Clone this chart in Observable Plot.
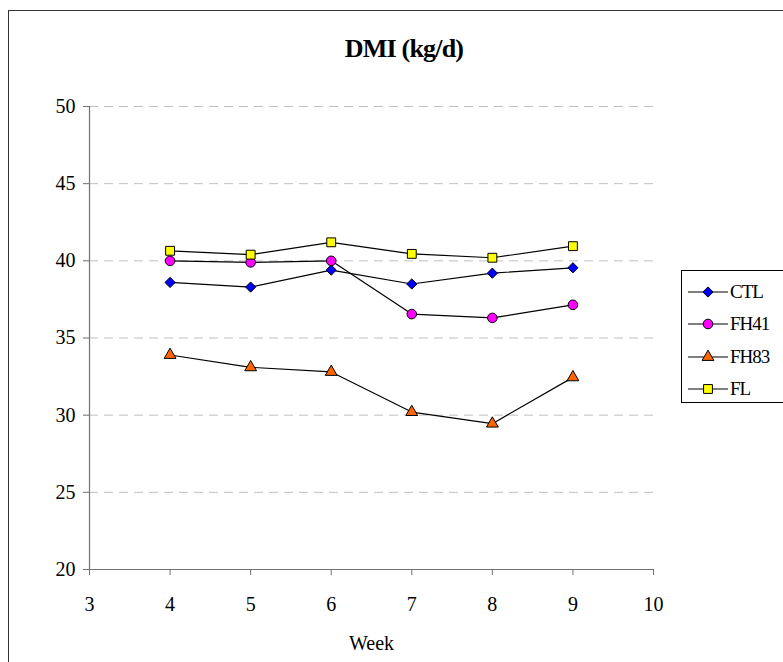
<!DOCTYPE html>
<html>
<head>
<meta charset="utf-8">
<script src="https://cdn.jsdelivr.net/npm/d3@7"></script>
<script src="https://cdn.jsdelivr.net/npm/@observablehq/plot@0.6"></script>
<style>
  body { margin: 0; background: #fff; width: 783px; height: 662px; overflow: hidden; position: relative; font-family: "Liberation Serif", "Times New Roman", Tinos, "DejaVu Serif", serif; }
  #frame { position: absolute; left: 8px; top: 10px; width: 900px; height: 900px; border: 1px solid #333; box-sizing: border-box; }
  #title { position: absolute; left: 0; width: 808px; top: 34px; line-height: 30px; text-align: center; font-weight: bold; font-size: 26px; letter-spacing: -0.8px; }
  #chart { position: absolute; left: 0; top: 0; }
  #legend { position: absolute; left: 681px; top: 270px; width: 200px; height: 133px; border: 1px solid #000; box-sizing: border-box; background: #fff; }
  #legend .item { position: absolute; left: 0; height: 20px; display: flex; align-items: center; font-size: 19px; letter-spacing: -1px; }
  #legend svg { display: block; }
  #chart svg text { font-family: "Liberation Serif", "Times New Roman", Tinos, "DejaVu Serif", serif; }
</style>
</head>
<body>
<div id="frame"></div>
<div id="chart"></div>
<div id="title">DMI (kg/d)</div>
<div id="legend"></div>
<script>
const weeks = [4, 5, 6, 7, 8, 9];
const seriesNames = ["CTL", "FH41", "FH83", "FL"];
const ctl  = [38.6, 38.3, 39.4, 38.5, 39.2, 39.55];
const fh41 = [40.0, 39.9, 40.0, 36.55, 36.3, 37.15];
const fh83 = [33.9, 33.1, 32.8, 30.2, 29.45, 32.45];
const fl   = [40.65, 40.4, 41.2, 40.45, 40.2, 40.95];
const xTicks = [3, 4, 5, 6, 7, 8, 9, 10];
const yTicks = [20, 25, 30, 35, 40, 45, 50];
const gridValues = [25, 30, 35, 40, 45, 50];

const colors = ["#0000ff", "#ff00ff", "#ff6600", "#ffff00"];
const symbols = ["diamond2", "circle", "triangle", "square"];
const radii = [4.6, 4.8, 4.4, 5];

const seriesValues = [ctl, fh41, fh83, fl];
const data = [];
seriesNames.forEach((name, i) => {
  weeks.forEach((w, j) => data.push({series: name, week: w, value: seriesValues[i][j]}));
});

const fontFam = '"Liberation Serif", "Times New Roman", Tinos, serif';
const marks = [
  Plot.ruleY(gridValues, {stroke: "#c0c0c0", strokeDasharray: "9,6", strokeWidth: 1}),
  Plot.ruleY([20], {stroke: "#707070", strokeWidth: 1.2}),
  Plot.ruleX([3], {stroke: "#707070", strokeWidth: 1.2}),
  Plot.axisY({ticks: yTicks, tickSize: 6, tickPadding: 8, tickFormat: d3.format("d"), stroke: "#707070", fill: "#000", fontSize: 20, label: null}),
  Plot.axisX({ticks: xTicks, tickSize: 6, tickPadding: 21, tickFormat: d3.format("d"), stroke: "#707070", fill: "#000", fontSize: 20, label: "Week", labelAnchor: "center", labelOffset: 80, labelArrow: "none"}),
  Plot.line(data, {x: "week", y: "value", z: "series", stroke: "#000", strokeWidth: 1.2})
];
seriesNames.forEach((name, i) => {
  marks.push(Plot.dot(data.filter(d => d.series === name), {
    x: "week", y: "value", symbol: () => symbols[i], r: radii[i], fill: colors[i], stroke: "#000", strokeWidth: 1
  }));
});

const chart = Plot.plot({
  width: 783,
  height: 662,
  marginLeft: 89,
  marginRight: 130,
  marginTop: 106,
  marginBottom: 93,
  style: {fontFamily: fontFam, fontSize: "20px", background: "transparent", overflow: "visible"},
  x: {domain: [3, 10]},
  y: {domain: [20, 50]},
  symbol: {type: "identity"},
  marks
});
document.getElementById("chart").appendChild(chart);

// legend
const legend = document.getElementById("legend");
const entryTops = [11, 43, 76, 108];
const symMap = {diamond2: d3.symbolDiamond2, circle: d3.symbolCircle, triangle: d3.symbolTriangle, square: d3.symbolSquare};
seriesNames.forEach((name, i) => {
  const item = document.createElement("div");
  item.className = "item";
  item.style.top = entryTops[i] + "px";
  const svg = d3.create("svg").attr("width", 48).attr("height", 20);
  svg.append("line").attr("x1", 6).attr("x2", 46).attr("y1", 10).attr("y2", 10).attr("stroke", "#000").attr("stroke-width", 1.2);
  svg.append("path")
    .attr("d", d3.symbol(symMap[symbols[i]], Math.PI * radii[i] * radii[i])())
    .attr("transform", "translate(26,10)")
    .attr("fill", colors[i]).attr("stroke", "#000");
  item.appendChild(svg.node());
  const label = document.createElement("span");
  label.textContent = name;
  item.appendChild(label);
  legend.appendChild(item);
});
</script>
</body>
</html>
